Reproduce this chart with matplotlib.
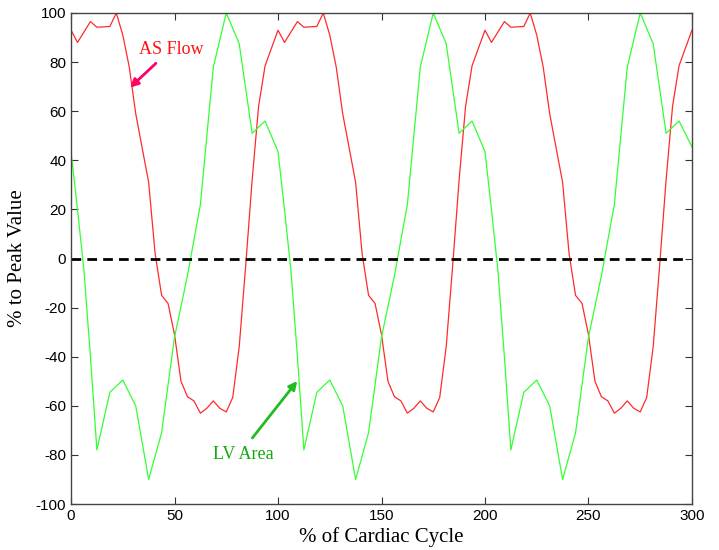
import matplotlib
matplotlib.use("Agg")
import matplotlib.pyplot as plt
import numpy as np

plt.rcParams["axes.unicode_minus"] = False

# One cardiac cycle (0-100 %); the chart shows 3 identical cycles
cycle_count = 3
red_x_cycle = [0, 3.125, 9.375, 12.5, 18.75, 21.875, 25, 28.125, 31.25, 34.375, 37.5,
               40.625, 43.75, 46.875, 50, 53.125, 56.25, 59.375, 62.5, 65.625, 68.75,
               71.875, 75, 78.125, 81.25, 84.375, 87.5, 90.625, 93.75]
as_flow_cycle = [93, 88, 96.5, 94.2, 94.5, 100, 91, 78, 59, 45, 31,
                 2, -15, -18.3, -31, -50, -56.3, -58, -63, -61, -58,
                 -61, -62.5, -56.6, -36, -3, 32, 62, 78.5]
green_x_cycle = [0, 3.125, 6.25, 9.375, 12.5, 18.75, 25, 31.25, 37.5, 43.75, 50,
                 56.25, 62.5, 68.75, 75, 81.25, 87.5, 93.75]
lv_area_cycle = [43.5, 20, -5, -40, -78, -54.5, -49.5, -60, -90, -71, -32,
                 -7, 22, 78, 100, 87.5, 51, 56]
end_x = 300
as_flow_end = 93
lv_area_end = 45.5

red_x = np.concatenate([np.array(red_x_cycle) + 100 * k for k in range(cycle_count)] + [[end_x]])
as_flow = np.concatenate([as_flow_cycle] * cycle_count + [[as_flow_end]])
green_x = np.concatenate([np.array(green_x_cycle) + 100 * k for k in range(cycle_count)] + [[end_x]])
lv_area = np.concatenate([lv_area_cycle] * cycle_count + [[lv_area_end]])

x_ticks = [0, 50, 100, 150, 200, 250, 300]
y_ticks = list(range(-100, 101, 20))

fig = plt.figure(figsize=(7.19, 5.5), dpi=100)
ax = fig.add_axes([0.0988, 0.0836, 0.8636, 0.8928])

ax.plot(red_x, as_flow, color="#ff2a2a", lw=0.9)
ax.plot(green_x, lv_area, color="#33ff33", lw=0.9)
ax.axhline(0, color="black", lw=2, ls=(0, (3.5, 2.2)), xmin=0, xmax=0.987)

ax.set_xlim(0, 300)
ax.set_ylim(-100, 100)
ax.set_xticks(x_ticks)
ax.set_yticks(y_ticks)
ax.tick_params(direction="in", top=True, right=True, length=5, width=0.8,
               labelsize=11, colors="#333333", labelcolor="black")
for lab in ax.get_xticklabels() + ax.get_yticklabels():
    lab.set_fontfamily("Liberation Sans")
for s in ax.spines.values():
    s.set_color("#444444")
    s.set_linewidth(1.0)

serif = "Liberation Serif"
ax.set_xlabel("% of Cardiac Cycle", fontsize=15, fontfamily=serif, labelpad=3)
ax.set_ylabel("% to Peak Value", fontsize=15, fontfamily=serif, labelpad=6)

ax.annotate("", xy=(28.5, 69.6), xytext=(41, 79.5),
            arrowprops=dict(arrowstyle="-|>", color="#ff0066", lw=2,
                            mutation_scale=12, shrinkA=0, shrinkB=0))
ax.text(48.3, 85, "AS Flow", color="#ff1111", fontsize=13, fontfamily=serif,
        ha="center", va="center")
ax.annotate("", xy=(109.3, -49.9), xytext=(87.6, -73.1),
            arrowprops=dict(arrowstyle="-|>", color="#22bb22", lw=2,
                            mutation_scale=12, shrinkA=0, shrinkB=0))
ax.text(83.1, -79.7, "LV Area", color="#11aa11", fontsize=13, fontfamily=serif,
        ha="center", va="center")

fig.savefig("out.png", dpi=100)
